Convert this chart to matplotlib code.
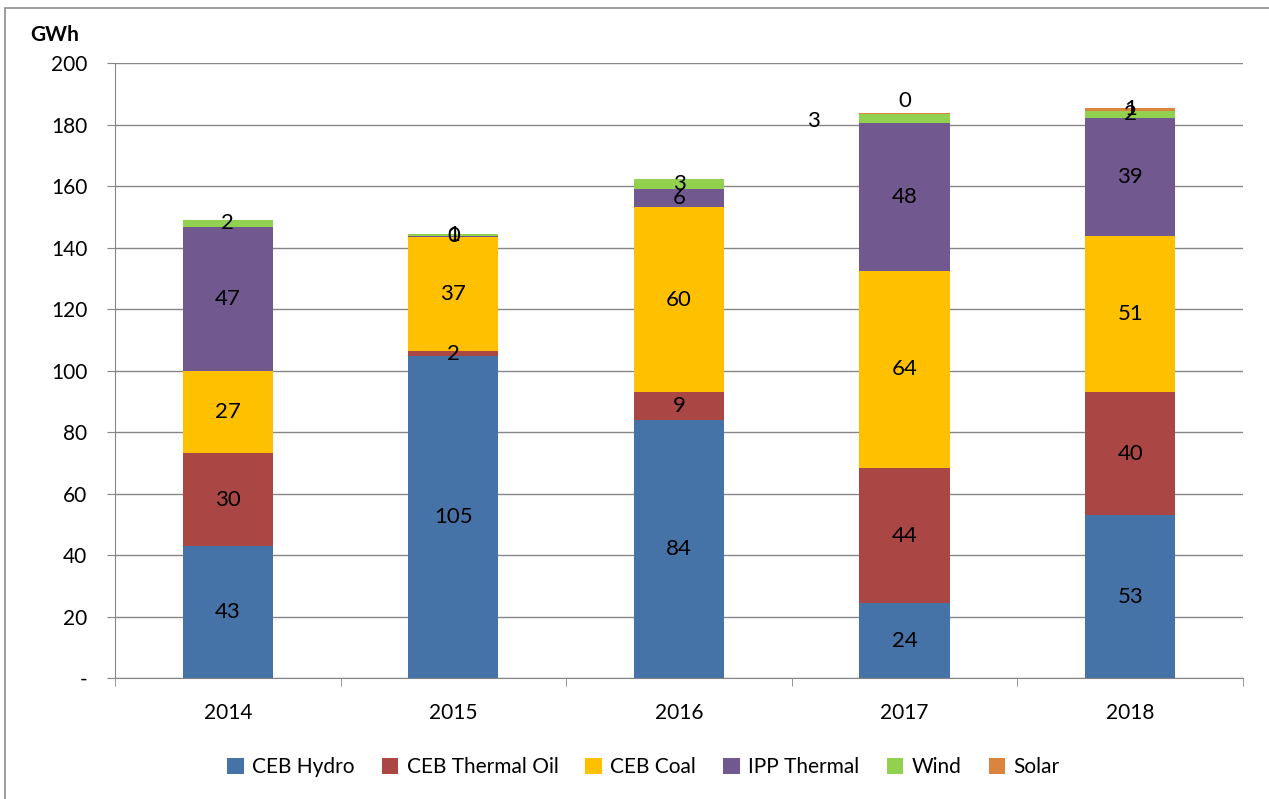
import numpy as np
import matplotlib.pyplot as plt
from matplotlib.patches import Rectangle

plt.rcParams['font.family'] = ['Lato', 'DejaVu Sans']

years = ['2014', '2015', '2016', '2017', '2018']
series = ['CEB Hydro', 'CEB Thermal Oil', 'CEB Coal', 'IPP Thermal', 'Wind', 'Solar']
ceb_hydro = [42.9, 104.6, 83.9, 24.4, 53.0]
ceb_oil = [30.3, 1.6, 9.1, 43.9, 40.0]
ceb_coal = [26.6, 37.3, 60.2, 64.1, 50.6]
ipp_thermal = [46.9, 0.3, 5.8, 48.1, 38.6]
wind = [2.4, 0.7, 3.3, 2.9, 2.3]
solar = [np.nan, np.nan, np.nan, 0.3, 1.0]
colors = ['#4572A7', '#AA4643', '#FFC000', '#71588F', '#92D050', '#DB843D']

fig = plt.figure(figsize=(12.69, 7.99), dpi=100)
ax = fig.add_axes([0.0906, 0.1514, 0.8889, 0.7697])

# outer chart frame
fig.patches.append(Rectangle((0.004, -0.01), 1.2, 0.9995, transform=fig.transFigure,
                             fill=False, edgecolor='#8c8c8c', linewidth=1.2))

x = np.arange(len(years))
bottom = np.zeros(len(years))
for name, vals, col in zip(series, [ceb_hydro, ceb_oil, ceb_coal, ipp_thermal, wind, solar], colors):
    v = np.array(vals, dtype=float)
    h = np.nan_to_num(v)
    ax.bar(x, h, 0.4, bottom=bottom, color=col, label=name, zorder=3)
    for i in range(len(years)):
        if np.isnan(v[i]):
            continue
        xt, yt = x[i], bottom[i] + h[i] / 2
        # labels that were moved by hand in the original
        if name == 'Wind' and years[i] == '2017':
            xt, yt = x[i] - 0.404, 181.1
        if name == 'Solar' and years[i] == '2017':
            yt = 187.6
        ax.text(xt, yt, '%.0f' % v[i], ha='center', va='center', fontsize=16, zorder=4)
    bottom += h

ax.set_xlim(-0.5, 4.5)
ax.set_ylim(0, 200)
ax.set_yticks(range(0, 201, 20))
ax.set_yticklabels(['-'] + [str(t) for t in range(20, 201, 20)])
ax.set_xticks(x)
ax.set_xticklabels(years)
ax.set_xticks(np.arange(-0.5, 5, 1), minor=True)
ax.tick_params(axis='x', which='major', length=0, pad=18, labelsize=15)
ax.tick_params(axis='x', which='minor', length=6, color='#868686', direction='out')
ax.tick_params(axis='y', length=6, color='#868686', labelsize=15, pad=14)
ax.grid(axis='y', color='#868686', linewidth=1, zorder=0)
for s in ['top', 'right']:
    ax.spines[s].set_visible(False)
for s in ['left', 'bottom']:
    ax.spines[s].set_color('#868686')

fig.text(0.024, 0.956, 'GWh', fontsize=15, fontweight='bold', ha='left', va='center')

fig.legend(loc='center', bbox_to_anchor=(0.507, 0.04), ncol=6, frameon=False,
           fontsize=15, handlelength=0.8, handleheight=0.8, handletextpad=0.4,
           columnspacing=1.3)

plt.savefig('out.png', dpi=100)
